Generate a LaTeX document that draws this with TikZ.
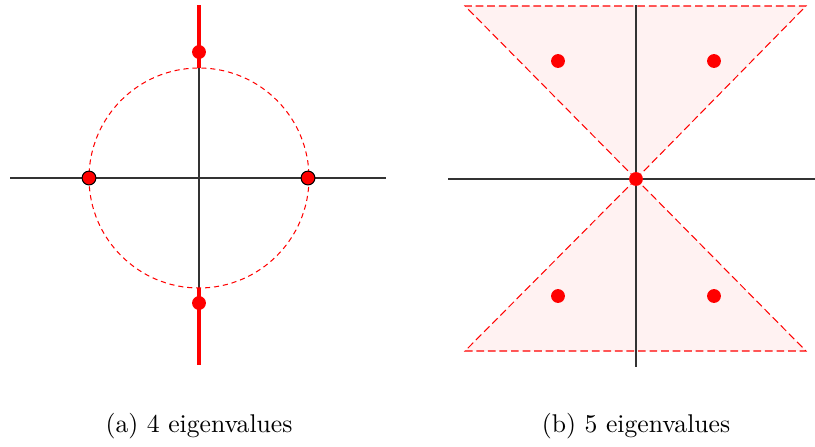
\documentclass[tikz,border=0pt]{standalone}
\usetikzlibrary{positioning}

\begin{document}
\begin{tikzpicture}[
  x=0.0137cm, y=-0.0137cm,
  axis/.style={draw=black!80, line width=0.5pt},
  ring/.style={draw=red, line width=0.4pt, dash pattern=on 2pt off 1.5pt},
  arm/.style={draw=red, line width=1.2pt},
  eig/.style={circle, fill=red, inner sep=0pt, minimum size=5.4pt},
  eigb/.style={eig, draw=black, line width=0.4pt},
  cone/.style={fill=red!5, draw=red, line width=0.4pt, dash pattern=on 3pt off 1.5pt},
  lbl/.style={font=\normalsize, inner sep=1pt},
]
\useasboundingbox (0,0) rectangle (815,446);

% =================== (a) 4 eigenvalues ===================
\begin{scope}[shift={(199,178)}]
  \coordinate (aW) at (-189,0); \coordinate (aE) at (187,0);
  \coordinate (aN) at (0,-173); \coordinate (aS) at (0,187);
  \coordinate (aT) at (0,-110); \coordinate (aB) at (0,110);
  \draw[axis] (aW) -- (aE);
  \draw[axis] (aN) -- (aS);
  \draw[ring] (0,0) circle (110);
  \draw[arm] (aN) -- (aT);
  \draw[arm] (aB) -- (aS);
  \node[eig] (a1) at (0,-126) {};
  \node[eig] (a2) at (0,125) {};
  \node[eigb] (a3) at (-110,0) {};
  \node[eigb] (a4) at (109,0) {};
  \node[lbl] (capa) at (0,248) {(a) 4 eigenvalues};
\end{scope}

% =================== (b) 5 eigenvalues ===================
\begin{scope}[shift={(636,179)}]
  \coordinate (bW) at (-188,0); \coordinate (bE) at (179,0);
  \coordinate (bN) at (0,-174); \coordinate (bS) at (0,188);
  \coordinate (bO) at (0,0);
  \draw[cone] (bO) -- (-171,-173) -- (170,-173) -- cycle;
  \draw[cone] (bO) -- (-171,172) -- (170,172) -- cycle;
  \draw[axis] (bW) -- (bE);
  \draw[axis] (bN) -- (bS);
  \node[eig] (b1) at (-78,-118) {};
  \node[eig] (b2) at (78,-118) {};
  \node[eig] (b3) at (-78,117) {};
  \node[eig] (b4) at (78,117) {};
  \node[eig] (b0) at (bO) {};
  \node[lbl] (capb) at (0,247) {(b) 5 eigenvalues};
\end{scope}
\end{tikzpicture}
\end{document}
